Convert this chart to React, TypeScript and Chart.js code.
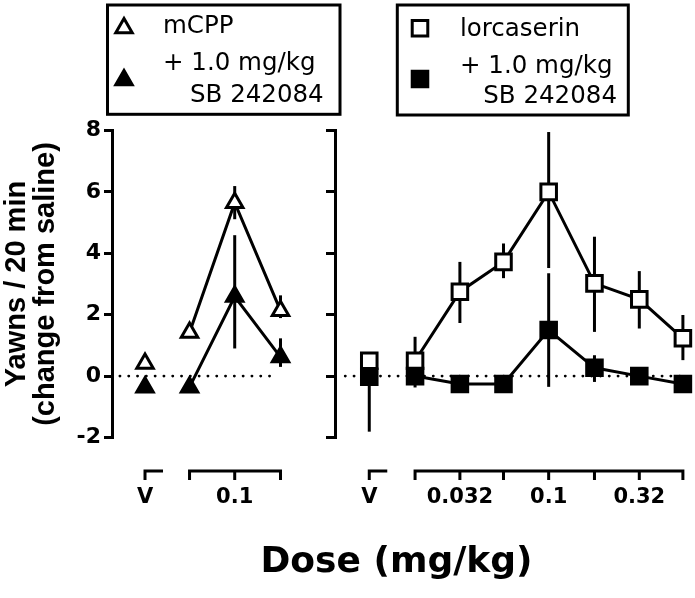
import React, { useEffect, useRef } from 'react';
import { Chart, registerables } from 'chart.js';
import { drawPoint } from 'chart.js/helpers';

Chart.register(...registerables);

// ---------------- data ----------------
const LOG = (d: number) => Math.log10(d);
const LEFT_PANEL_SHIFT = -1.75; // left panel is drawn 1.75 log units left of the right one
const VEH_X_LEFT = -3.25; // vehicle position, left panel (axis units)
const VEH_X_RIGHT = -2.0; // vehicle position, right panel (axis units)

const MCPP_DOSES = [0.056, 0.1, 0.18];
const MCPP_VEH = [0.41];
const MCPP = [1.42, 5.65, 2.13];
const MCPP_ERR_UP = [0, 0.54, 0.5];
const MCPP_ERR_DOWN = [0, 0.54, 0.24];

const MCPP_SB_VEH = [-0.36];
const MCPP_SB = [-0.36, 2.59, 0.62];
const MCPP_SB_ERR_UP = [0, 2.0, 0.61];
const MCPP_SB_ERR_DOWN = [0, 1.69, 0.32];

const LORC_DOSES = [0.018, 0.032, 0.056, 0.1, 0.18, 0.32, 0.56];
const LORC_VEH = [0.5];
const LORC = [0.5, 2.75, 3.72, 6.0, 3.02, 2.5, 1.23];
const LORC_ERR_UP = [0.78, 0.97, 0.6, 1.95, 1.52, 0.92, 0.76];
const LORC_ERR_DOWN = [0.78, 1.02, 0.53, 2.48, 1.58, 0.95, 0.71];

const LORC_SB_VEH = [-0.02];
const LORC_SB_VEH_ERR_UP = [0];
const LORC_SB_VEH_ERR_DOWN = [1.79];
const LORC_SB = [0, -0.26, -0.26, 1.5, 0.27, 0, -0.26];
const LORC_SB_ERR_UP = [0.37, 0, 0, 1.85, 0.41, 0, 0];
const LORC_SB_ERR_DOWN = [0.37, 0, 0, 1.85, 0.46, 0, 0];

const ZERO_LINE_LEFT_X = [-3.39, -2.51];
const ZERO_LINE_RIGHT_X = [-2.134, -0.265];

const X_MIN = -3.434;
const X_MAX = -0.2624;
const RIGHT_AXIS_X = -2.19;

const X_TICK_VALUES = [VEH_X_LEFT, LOG(0.1) + LEFT_PANEL_SHIFT, VEH_X_RIGHT, LOG(0.032), LOG(0.1), LOG(0.32)];
const X_TICK_LABELS = ['V', '0.1', 'V', '0.032', '0.1', '0.32'];

const Y_MIN = -2;
const Y_MAX = 8;
const Y_STEP = 2;

const Y_TITLE = ['Yawns / 20 min', '(change from saline)'];
const X_TITLE = 'Dose (mg/kg)';
const LEGEND_LEFT_TEXT = ['mCPP', '+ 1.0 mg/kg', 'SB 242084'];
const LEGEND_RIGHT_TEXT = ['lorcaserin', '+ 1.0 mg/kg', 'SB 242084'];

const X_SEGMENTS = [
  { ticks: [VEH_X_LEFT], stub: true },
  { ticks: MCPP_DOSES.map((d) => LOG(d) + LEFT_PANEL_SHIFT), stub: false },
  { ticks: [VEH_X_RIGHT], stub: true },
  { ticks: LORC_DOSES.map((d) => LOG(d)), stub: false },
];

// ---------------- styling ----------------
const FONT_WIDE = '"DejaVu Sans", Verdana, sans-serif';
const FONT_NARROW = '"Liberation Sans", Arial, Helvetica, sans-serif';
const TRI_R = 9.5;
const SQ_R = 11;
const MARK_BW = 3;

function series(xs: number[], ys: number[], up: number[] | null, down: number[] | null, style: string, fill: string, showLine: boolean) {
  return {
    data: xs.map((x, i) => ({ x, y: ys[i] })),
    errUp: up,
    errDown: down,
    showLine,
    borderColor: '#000',
    borderWidth: 3,
    pointStyle: style,
    pointRadius: style === 'rect' ? SQ_R : TRI_R,
    pointHoverRadius: style === 'rect' ? SQ_R : TRI_R,
    pointBackgroundColor: fill,
    pointBorderColor: '#000',
    pointBorderWidth: MARK_BW,
    clip: false,
    tension: 0,
    fill: false,
    xAxisID: 'x',
    yAxisID: 'y',
  };
}

function zeroLine(xs: number[]) {
  return {
    data: xs.map((x) => ({ x, y: 0 })),
    showLine: true,
    borderColor: '#000',
    borderWidth: 2.8,
    borderDash: [0.1, 8.7],
    borderCapStyle: 'round',
    pointRadius: 0,
    pointHoverRadius: 0,
    clip: false,
    xAxisID: 'x',
    yAxisID: 'y',
  };
}

const errorBarPlugin = {
  id: 'errorBars',
  beforeDatasetsDraw(chart: any) {
    const { ctx } = chart;
    const xs = chart.scales.x;
    const ys = chart.scales.y;
    ctx.save();
    ctx.strokeStyle = '#000';
    ctx.lineWidth = 3;
    ctx.lineCap = 'butt';
    chart.data.datasets.forEach((ds: any) => {
      if (!ds.errUp && !ds.errDown) return;
      ds.data.forEach((p: any, i: number) => {
        const up = ds.errUp ? ds.errUp[i] : 0;
        const dn = ds.errDown ? ds.errDown[i] : 0;
        if (!up && !dn) return;
        const px = xs.getPixelForValue(p.x);
        ctx.beginPath();
        ctx.moveTo(px, ys.getPixelForValue(p.y + up));
        ctx.lineTo(px, ys.getPixelForValue(p.y - dn));
        ctx.stroke();
      });
    });
    ctx.restore();
  },
};

const xSegmentsPlugin = {
  id: 'xSegments',
  afterDraw(chart: any) {
    const { ctx, chartArea } = chart;
    const xs = chart.scales.x;
    const y = chartArea.bottom + 33.5;
    ctx.save();
    ctx.strokeStyle = '#000';
    ctx.lineWidth = 3;
    ctx.lineCap = 'butt';
    X_SEGMENTS.forEach((seg) => {
      const pxs = seg.ticks.map((t) => xs.getPixelForValue(t));
      const x0 = pxs[0] - 1.5;
      const x1 = seg.stub ? pxs[0] + 18 : pxs[pxs.length - 1] + 1.5;
      ctx.beginPath();
      ctx.moveTo(x0, y);
      ctx.lineTo(x1, y);
      pxs.forEach((px) => {
        ctx.moveTo(px, y - 1.5);
        ctx.lineTo(px, y + 9);
      });
      ctx.stroke();
    });
    ctx.restore();
  },
};

const LEGEND_LAYOUT = [
  {
    box: [107.5, 5, 340, 114.3],
    texts: LEGEND_LEFT_TEXT,
    textPos: [[163, 33], [163, 70], [190, 102]],
    markers: [
      { style: 'triangle', r: TRI_R, fill: '#fff', x: 124, y: 28 },
      { style: 'triangle', r: TRI_R, fill: '#000', x: 124, y: 80 },
    ],
  },
  {
    box: [397.3, 5, 628.3, 115],
    texts: LEGEND_RIGHT_TEXT,
    textPos: [[460, 36], [460, 72.7], [483.3, 103.3]],
    markers: [
      { style: 'rect', r: SQ_R, fill: '#fff', x: 420, y: 28.3 },
      { style: 'rect', r: SQ_R, fill: '#000', x: 420, y: 79 },
    ],
  },
];

const legendPlugin = {
  id: 'boxLegends',
  afterDraw(chart: any) {
    const { ctx } = chart;
    ctx.save();
    LEGEND_LAYOUT.forEach((lg) => {
      const [x1, y1, x2, y2] = lg.box;
      ctx.strokeStyle = '#000';
      ctx.lineWidth = 3;
      ctx.strokeRect(x1, y1, x2 - x1, y2 - y1);
      lg.markers.forEach((m) => {
        ctx.fillStyle = m.fill;
        ctx.strokeStyle = '#000';
        ctx.lineWidth = MARK_BW;
        drawPoint(ctx, { pointStyle: m.style as any, radius: m.r, rotation: 0, borderWidth: MARK_BW }, m.x, m.y);
      });
      ctx.fillStyle = '#000';
      ctx.font = `24.5px ${FONT_WIDE}`;
      ctx.textAlign = 'left';
      ctx.textBaseline = 'alphabetic';
      lg.texts.forEach((t, i) => {
        ctx.fillText(t, lg.textPos[i][0], lg.textPos[i][1]);
      });
    });
    ctx.restore();
  },
};

export default function App() {
  const ref = useRef<HTMLCanvasElement>(null);
  useEffect(() => {
    if (!ref.current) return;
    Chart.defaults.font.family = FONT_WIDE;
    Chart.defaults.color = '#000';
    const datasets: any[] = [
      series(LORC_DOSES.map(LOG), LORC_SB, LORC_SB_ERR_UP, LORC_SB_ERR_DOWN, 'rect', '#000', true),
      series([VEH_X_RIGHT], LORC_SB_VEH, LORC_SB_VEH_ERR_UP, LORC_SB_VEH_ERR_DOWN, 'rect', '#000', false),
      series(LORC_DOSES.map(LOG), LORC, LORC_ERR_UP, LORC_ERR_DOWN, 'rect', '#fff', true),
      series([VEH_X_RIGHT], LORC_VEH, null, null, 'rect', '#fff', false),
      series(MCPP_DOSES.map((d) => LOG(d) + LEFT_PANEL_SHIFT), MCPP_SB, MCPP_SB_ERR_UP, MCPP_SB_ERR_DOWN, 'triangle', '#000', true),
      series([VEH_X_LEFT], MCPP_SB_VEH, null, null, 'triangle', '#000', false),
      series(MCPP_DOSES.map((d) => LOG(d) + LEFT_PANEL_SHIFT), MCPP, MCPP_ERR_UP, MCPP_ERR_DOWN, 'triangle', '#fff', true),
      series([VEH_X_LEFT], MCPP_VEH, null, null, 'triangle', '#fff', false),
      zeroLine(ZERO_LINE_LEFT_X),
      zeroLine(ZERO_LINE_RIGHT_X),
    ];
    const chart = new Chart(ref.current, {
      type: 'scatter',
      data: { datasets },
      plugins: [errorBarPlugin, xSegmentsPlugin, legendPlugin],
      options: {
        animation: false,
        responsive: false,
        devicePixelRatio: 1,
        events: [],
        layout: { padding: { top: 130.5, left: 0, right: 5, bottom: 0 } },
        plugins: { legend: { display: false }, tooltip: { enabled: false }, title: { display: false } },
        scales: {
          x: {
            type: 'linear',
            position: 'bottom',
            min: X_MIN,
            max: X_MAX,
            bounds: 'data',
            grid: { display: false, drawTicks: false },
            border: { display: false },
            afterBuildTicks: (scale: any) => {
              scale.ticks = X_TICK_VALUES.map((v) => ({ value: v }));
            },
            afterFit: (scale: any) => {
              scale.height = 160.5;
              scale.paddingLeft = 0;
              scale.paddingRight = 0;
            },
            ticks: {
              autoSkip: false,
              maxRotation: 0,
              minRotation: 0,
              padding: 47.5,
              font: { size: 21, weight: 'bold', family: FONT_WIDE },
              color: '#000',
              callback: (_v: any, i: number) => X_TICK_LABELS[i],
            },
            title: {
              display: true,
              text: X_TITLE,
              font: { size: 36, weight: 'bold', family: FONT_WIDE },
              color: '#000',
              padding: { top: 0, bottom: 14 },
            },
          },
          y: {
            type: 'linear',
            position: 'left',
            min: Y_MIN,
            max: Y_MAX,
            afterFit: (scale: any) => {
              scale.width = 112;
              scale.paddingTop = 0;
              scale.paddingBottom = 0;
            },
            ticks: { stepSize: Y_STEP, padding: 3, font: { size: 22, weight: 'bold', family: FONT_WIDE }, color: '#000' },
            grid: { drawOnChartArea: false, tickLength: 8, tickWidth: 3, tickColor: '#000', lineWidth: 3, color: '#000' },
            border: { display: true, width: 3, color: '#000' },
            title: {
              display: true,
              text: Y_TITLE,
              font: { size: 29, weight: 'bold', lineHeight: 1, family: FONT_NARROW },
              color: '#000',
              padding: { top: 2.5, bottom: 0 },
            },
          },
          y2: {
            type: 'linear',
            position: { x: RIGHT_AXIS_X },
            min: Y_MIN,
            max: Y_MAX,
            afterFit: (scale: any) => {
              scale.width = 0;
              scale.paddingTop = 0;
              scale.paddingBottom = 0;
              scale.paddingLeft = 0;
              scale.paddingRight = 0;
            },
            ticks: { stepSize: Y_STEP, padding: 0, callback: () => '' },
            grid: { drawOnChartArea: false, tickLength: 8, tickWidth: 3, tickColor: '#000', lineWidth: 3, color: '#000' },
            border: { display: true, width: 3, color: '#000' },
          },
        },
      } as any,
    });
    return () => chart.destroy();
  }, []);
  return (
    <div style={{ position: 'absolute', left: 0, top: 0, width: 695, height: 598, background: '#fff' }}>
      <canvas ref={ref} width={695} height={598} style={{ display: 'block', width: 695, height: 598 }} />
    </div>
  );
}
